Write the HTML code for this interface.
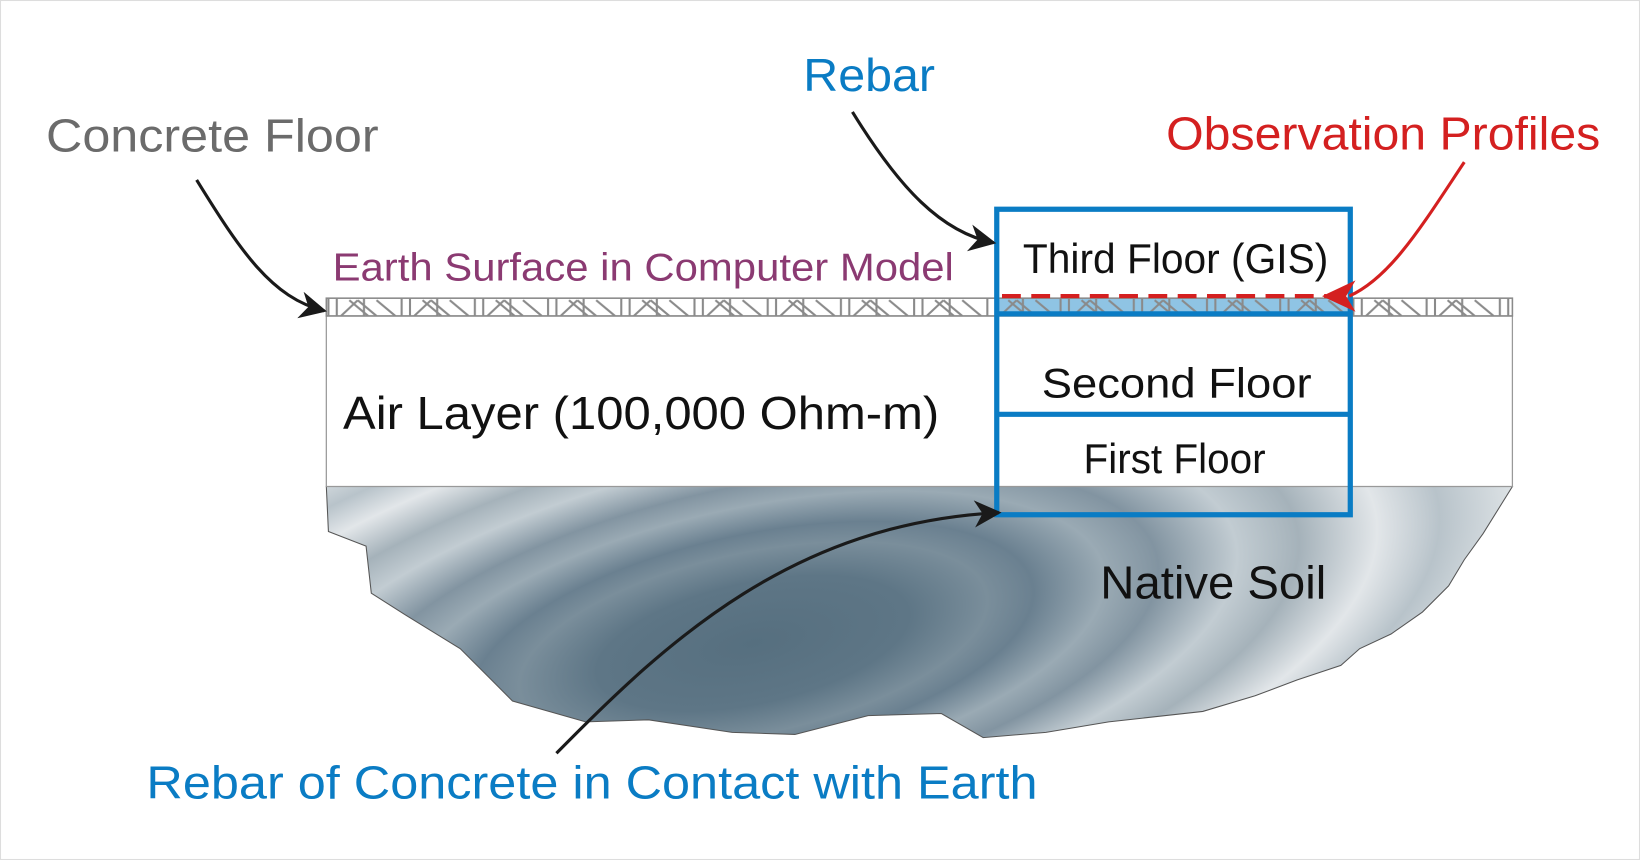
<!DOCTYPE html>
<html><head><meta charset="utf-8"><style>
html,body{margin:0;padding:0;background:#fff}
svg{display:block}
text{font-family:"Liberation Sans",sans-serif}
</style></head><body>
<svg width="1640" height="860" viewBox="0 0 1568 822" preserveAspectRatio="none" xmlns="http://www.w3.org/2000/svg">
<defs>
<radialGradient id="soil" cx="720" cy="615" r="760" gradientUnits="userSpaceOnUse" gradientTransform="translate(720 615) rotate(-12) scale(1 0.38) translate(-720 -615)">
<stop offset="0" stop-color="#566f7f"/>
<stop offset="0.2" stop-color="#5e7686"/>
<stop offset="0.3" stop-color="#7a8e9b"/>
<stop offset="0.36" stop-color="#6a8090"/>
<stop offset="0.45" stop-color="#9aaab4"/>
<stop offset="0.52" stop-color="#8294a1"/>
<stop offset="0.62" stop-color="#c2ccd2"/>
<stop offset="0.7" stop-color="#a5b2ba"/>
<stop offset="0.8" stop-color="#e2e6e9"/>
<stop offset="0.88" stop-color="#b8c3ca"/>
<stop offset="1" stop-color="#e6eaec"/>
</radialGradient>
<pattern id="truss" x="312" y="285" width="70" height="17" patternUnits="userSpaceOnUse">
<g stroke="#8a8a8a" stroke-width="2" fill="none">
<line x1="2" y1="0" x2="2" y2="17"/><line x1="10" y1="0" x2="10" y2="17"/>
<line x1="14" y1="17" x2="30" y2="2"/><line x1="22" y1="2" x2="40" y2="17"/>
<line x1="30" y1="2" x2="48" y2="17"/><line x1="36" y1="0" x2="36" y2="17"/>
<line x1="48" y1="2" x2="66" y2="17"/>
</g>
</pattern>
<marker id="ab" viewBox="0 0 10 10" refX="9" refY="5" markerWidth="30" markerHeight="26" markerUnits="userSpaceOnUse" orient="auto"><path d="M0,0 L10,5 L0,10 L3,5 z" fill="#1a1a1a"/></marker>
</defs>
<rect x="0.5" y="0.5" width="1567" height="821" fill="#fff" stroke="#ddd"/>
<path d="M312,465 L314,508 L350,522 L355,567 L388,588 L440,620 L470,650 L490,670 L560,690 L620,688 L700,700 L760,702 L830,684 L900,682 L940,705 L1000,700 L1060,690 L1150,680 L1200,665 L1240,650 L1282,636 L1300,620 L1330,606 L1360,585 L1385,560 L1400,535 L1418,510 L1446,465 Z" fill="url(#soil)" stroke="#555" stroke-width="1"/>
<rect x="312" y="302" width="1134" height="163" fill="#fff" stroke="#999" stroke-width="1.2"/>
<rect x="955" y="285" width="336" height="17" fill="#8fc4e4"/>
<rect x="312" y="285" width="1134" height="17" fill="url(#truss)" stroke="#8a8a8a" stroke-width="1.5"/>
<g fill="none" stroke="#0a7cc4" stroke-width="5">
<rect x="953" y="200" width="338" height="292"/>
<line x1="953" y1="300" x2="1291" y2="300"/>
<line x1="953" y1="396" x2="1291" y2="396"/>
</g>
<line x1="958" y1="283" x2="1268" y2="283" stroke="#d42020" stroke-width="4" stroke-dasharray="18,10"/>
<g fill="none" stroke="#1a1a1a" stroke-width="3">
<path d="M188,172 C230,240 260,285 310,297" marker-end="url(#ab)"/>
<path d="M815,107 C860,180 900,222 950,232" marker-end="url(#ab)"/>
<path d="M532,720 C640,610 760,500 955,490" marker-end="url(#ab)"/>
</g>
<path d="M1400,155 C1360,215 1330,265 1290,283" fill="none" stroke="#d42020" stroke-width="3"/>
<path d="M1264,283 L1296,268 L1287,283 L1296,298 z" fill="#d42020"/>
<text x="44" y="145" font-size="44" fill="#6b6b6b" textLength="318" lengthAdjust="spacingAndGlyphs">Concrete Floor</text>
<text x="768" y="87" font-size="44" fill="#0a7cc4" textLength="126" lengthAdjust="spacingAndGlyphs">Rebar</text>
<text x="1115" y="143" font-size="44" fill="#d42020" textLength="415" lengthAdjust="spacingAndGlyphs">Observation Profiles</text>
<text x="318" y="268" font-size="37" fill="#8b3a72" textLength="594" lengthAdjust="spacingAndGlyphs">Earth Surface in Computer Model</text>
<text x="978" y="261" font-size="40" fill="#111" textLength="292" lengthAdjust="spacingAndGlyphs">Third Floor (GIS)</text>
<text x="996" y="380" font-size="40" fill="#111" textLength="258" lengthAdjust="spacingAndGlyphs">Second Floor</text>
<text x="1036" y="452" font-size="40" fill="#111" textLength="174" lengthAdjust="spacingAndGlyphs">First Floor</text>
<text x="328" y="410" font-size="44" fill="#111" textLength="570" lengthAdjust="spacingAndGlyphs">Air Layer (100,000 Ohm-m)</text>
<text x="1052" y="572" font-size="44" fill="#111" textLength="216" lengthAdjust="spacingAndGlyphs">Native Soil</text>
<text x="140" y="763" font-size="44" fill="#0a7cc4" textLength="852" lengthAdjust="spacingAndGlyphs">Rebar of Concrete in Contact with Earth</text>
</svg>
</body></html>
